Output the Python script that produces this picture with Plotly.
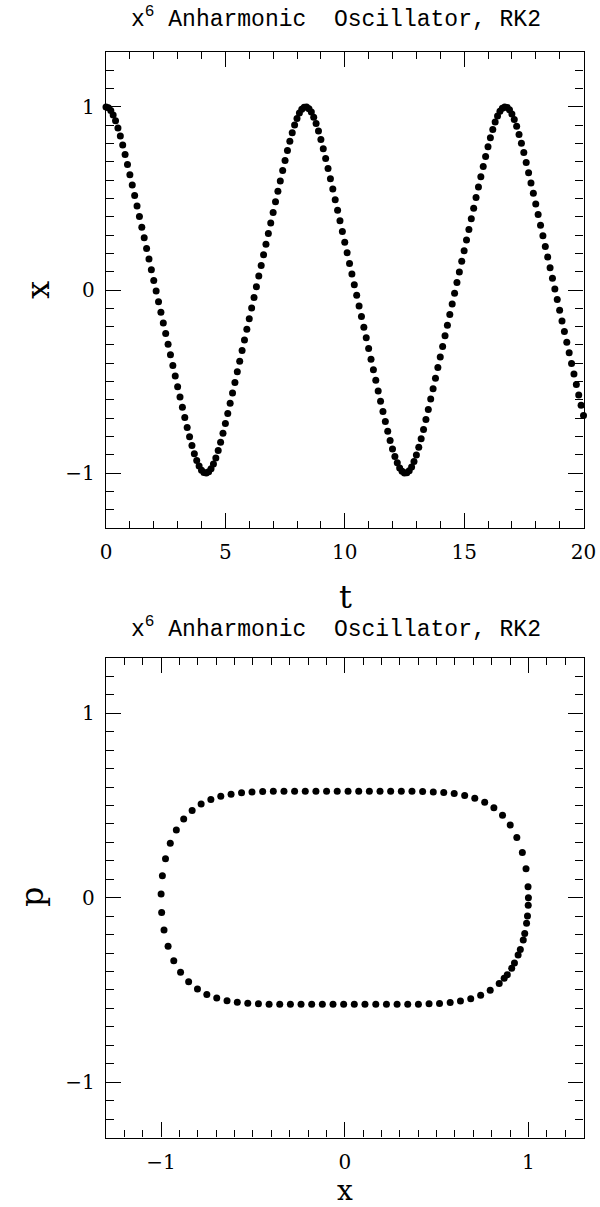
import plotly.graph_objects as go

# ---- data ----
T_STEP = 0.1  # time step between plotted points

# x(t) for t = 0.0, 0.1, ..., 20.0 (top panel)
x_vals = [
    1.000, 0.995, 0.980, 0.956, 0.924, 0.885, 0.841, 0.792, 0.740, 0.686, 0.630,
    0.574, 0.516, 0.459, 0.401, 0.343, 0.285, 0.227, 0.169, 0.110, 0.052,
    -0.006, -0.064, -0.122, -0.180, -0.238, -0.296, -0.354, -0.412, -0.470, -0.528,
    -0.585, -0.641, -0.697, -0.751, -0.802, -0.850, -0.894, -0.931, -0.962, -0.984, -0.997,
    -1.000, -0.993, -0.976, -0.950, -0.917, -0.877, -0.831, -0.782, -0.729, -0.675,
    -0.619, -0.562, -0.505, -0.447, -0.389, -0.331, -0.273, -0.215, -0.157, -0.099, -0.041,
    0.018, 0.076, 0.134, 0.192, 0.250, 0.308, 0.366, 0.424, 0.482, 0.539,
    0.596, 0.653, 0.708, 0.762, 0.812, 0.859, 0.901, 0.937, 0.967, 0.987, 0.998,
    0.999, 0.990, 0.972, 0.944, 0.909, 0.868, 0.822, 0.772, 0.718, 0.664,
    0.608, 0.551, 0.493, 0.435, 0.378, 0.319, 0.261, 0.203, 0.145, 0.087, 0.029,
    -0.029, -0.087, -0.145, -0.203, -0.261, -0.319, -0.378, -0.435, -0.493, -0.551,
    -0.608, -0.664, -0.718, -0.772, -0.822, -0.868, -0.909, -0.944, -0.972, -0.990, -0.999,
    -0.998, -0.987, -0.967, -0.937, -0.901, -0.859, -0.812, -0.762, -0.708, -0.653,
    -0.596, -0.539, -0.482, -0.424, -0.366, -0.308, -0.250, -0.192, -0.134, -0.076, -0.018,
    0.041, 0.099, 0.157, 0.215, 0.273, 0.331, 0.389, 0.447, 0.505, 0.562,
    0.619, 0.675, 0.729, 0.782, 0.831, 0.877, 0.917, 0.950, 0.976, 0.993, 1.000,
    0.997, 0.984, 0.962, 0.931, 0.894, 0.850, 0.802, 0.751, 0.697, 0.641,
    0.585, 0.528, 0.470, 0.412, 0.354, 0.296, 0.238, 0.180, 0.122, 0.064, 0.006,
    -0.052, -0.110, -0.169, -0.227, -0.285, -0.343, -0.401, -0.459, -0.516, -0.574,
    -0.630, -0.686,
]
t_vals = [round(i * T_STEP, 1) for i in range(len(x_vals))]

# momentum p for the points shown in the phase-space panel (t = 0.0 ... 8.9)
p_vals = [
    0.000, -0.099, -0.194, -0.280, -0.354, -0.417, -0.465, -0.502, -0.528, -0.547,
    -0.560, -0.568, -0.573, -0.575, -0.577, -0.577, -0.578,
    -0.578, -0.578, -0.578, -0.578, -0.578, -0.578, -0.578, -0.578, -0.578, -0.578,
    -0.577, -0.577, -0.575, -0.572, -0.566, -0.558, -0.544, -0.524, -0.495, -0.456,
    -0.404, -0.341, -0.263, -0.175, -0.080,
    0.020, 0.119, 0.211, 0.296, 0.368, 0.427, 0.473, 0.508, 0.533, 0.550,
    0.561, 0.569, 0.573, 0.576, 0.577, 0.578,
    0.578, 0.578, 0.578, 0.578, 0.578, 0.578, 0.578, 0.578, 0.578, 0.578, 0.578,
    0.577, 0.576, 0.574, 0.571, 0.565, 0.555, 0.540, 0.518, 0.488, 0.447,
    0.394, 0.327, 0.246, 0.157, 0.060,
    -0.040, -0.138, -0.229, -0.311, -0.382, -0.437,
]
phase_x = x_vals[:len(p_vals)]

title_text = "x<sup>6</sup> Anharmonic\u00a0\u00a0Oscillator, RK2"
top_xticks = [0, 5, 10, 15, 20]
sym_ticks = [-1, 0, 1]
sym_labels = ["\u22121", "0", "1"]

# ---- figure ----
W, H = 600, 1207
FONT = "DejaVu Serif"
TFONT = "Liberation Mono"
marker = dict(color="black", size=7)

fig = go.Figure()
fig.add_trace(go.Scatter(x=t_vals, y=x_vals, mode="markers", marker=marker,
                         cliponaxis=False, xaxis="x", yaxis="y", showlegend=False))
fig.add_trace(go.Scatter(x=phase_x, y=p_vals, mode="markers", marker=marker,
                         cliponaxis=False, xaxis="x2", yaxis="y2", showlegend=False))

xdom = [106 / W, 583.5 / W]
top_dom = [1 - 528 / H, 1 - 52 / H]
bot_dom = [1 - 1137.5 / H, 1 - 658 / H]

common = dict(showgrid=False, zeroline=False, showline=True, linecolor="black",
              linewidth=1.3, mirror="allticks", ticks="inside", tickcolor="black",
              tickwidth=1, ticklen=15, automargin=False,
              tickfont=dict(family=FONT, size=20, color="black"),
              ticklabelstandoff=6)

fig.update_layout(
    template="none",
    width=W, height=H, margin=dict(l=0, r=0, t=0, b=0),
    paper_bgcolor="white", plot_bgcolor="white",
    xaxis=dict(domain=xdom, range=[0, 20], anchor="y", tickmode="array",
               tickvals=top_xticks,
               minor=dict(dtick=1, tick0=0, ticks="inside", ticklen=7, tickcolor="black"),
               **common),
    yaxis=dict(domain=top_dom, range=[-1.3, 1.3], anchor="x", tickmode="array",
               tickvals=sym_ticks, ticktext=sym_labels,
               minor=dict(dtick=0.1, tick0=0, ticks="inside", ticklen=8, tickcolor="black"),
               **common),
    xaxis2=dict(domain=xdom, range=[-1.3, 1.3], anchor="y2", tickmode="array",
                tickvals=sym_ticks, ticktext=sym_labels,
                minor=dict(dtick=0.1, tick0=0, ticks="inside", ticklen=7, tickcolor="black"),
                **common),
    yaxis2=dict(domain=bot_dom, range=[-1.3, 1.3], anchor="x2", tickmode="array",
                tickvals=sym_ticks, ticktext=sym_labels,
                minor=dict(dtick=0.1, tick0=0, ticks="inside", ticklen=8, tickcolor="black"),
                **common),
)

def ann(text, xpx, ypx, size, angle=0, family=FONT):
    fig.add_annotation(text=text, x=xpx / W, y=1 - ypx / H, xref="paper", yref="paper",
                       showarrow=False, xanchor="center", yanchor="middle", textangle=angle,
                       font=dict(family=family, size=size, color="black"))

ann(title_text, 336, 18, 23, family=TFONT)
ann(title_text, 336, 628, 23, family=TFONT)
ann("t", 345, 597, 32)
ann("x", 38, 290, 32, -90)
ann("p", 32, 897, 32, -90)
ann("x", 345, 1190, 28)

fig.write_html(
    "out.html",
    config={"displayModeBar": False},
    post_script="document.body.style.margin='0';document.body.style.overflow='hidden';",
)
